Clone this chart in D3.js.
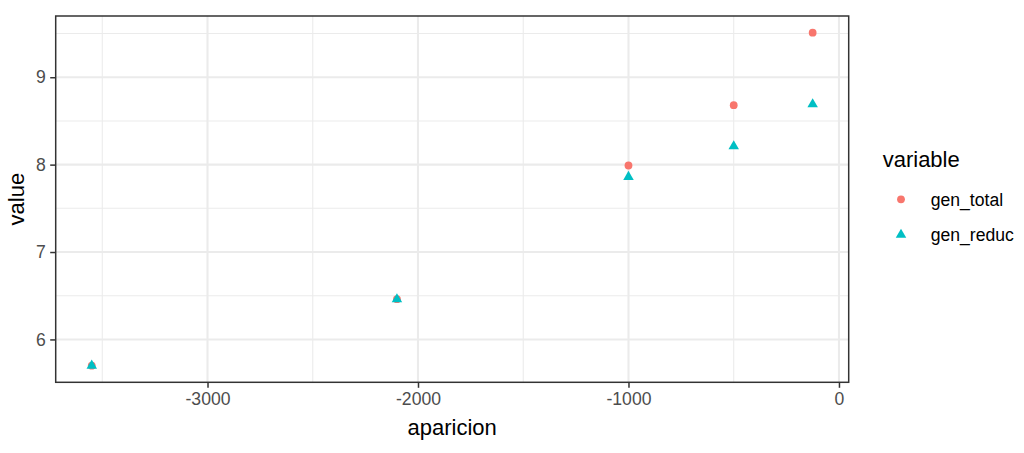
<!DOCTYPE html>
<html>
<head>
<meta charset="utf-8">
<script src="https://cdn.jsdelivr.net/npm/d3@7"></script>
<style>
  html, body { margin: 0; padding: 0; background: #fff; }
  svg { display: block; font-family: "Liberation Sans", Arial, Helvetica, sans-serif; }
</style>
</head>
<body>
<svg id="chart" width="1024" height="453"></svg>
<script>
// ---- data ----
const aparicion = [-3550, -2100, -1000, -500, -125];
const genTotal  = [5.70, 6.46, 7.99, 8.68, 9.51];
const genReduc  = [5.70, 6.46, 7.86, 8.21, 8.69];
const seriesNames = ["gen_total", "gen_reduc"];
const seriesColors = ["#F8766D", "#00BFC4"];
const xTicks = [-3000, -2000, -1000, 0];
const yTicks = [6, 7, 8, 9];
const xMinor = [-3500, -2500, -1500, -500];
const yMinor = [6.5, 7.5, 8.5, 9.5];
const xLabel = "aparicion";
const yLabel = "value";
const legendTitle = "variable";

// ---- layout ----
const svg = d3.select("#chart");
const panel = { left: 55.7, right: 848.7, top: 16, bottom: 382.3 };

function expand(ext) {
  const pad = (ext[1] - ext[0]) * 0.05;
  return [ext[0] - pad, ext[1] + pad];
}
const allY = genTotal.concat(genReduc);
const x = d3.scaleLinear().domain(expand(d3.extent(aparicion))).range([panel.left, panel.right]);
const y = d3.scaleLinear().domain(expand(d3.extent(allY))).range([panel.bottom, panel.top]);

svg.append("rect")
  .attr("x", panel.left).attr("y", panel.top)
  .attr("width", panel.right - panel.left).attr("height", panel.bottom - panel.top)
  .attr("fill", "#fff");

const grid = svg.append("g");
grid.selectAll(".xminor").data(xMinor.filter(v => x(v) >= panel.left && x(v) <= panel.right)).enter()
  .append("line").attr("x1", d => x(d)).attr("x2", d => x(d))
  .attr("y1", panel.top).attr("y2", panel.bottom)
  .attr("stroke", "#EBEBEB").attr("stroke-width", 1.07);
grid.selectAll(".yminor").data(yMinor.filter(v => y(v) >= panel.top && y(v) <= panel.bottom)).enter()
  .append("line").attr("y1", d => y(d)).attr("y2", d => y(d))
  .attr("x1", panel.left).attr("x2", panel.right)
  .attr("stroke", "#EBEBEB").attr("stroke-width", 1.07);
grid.selectAll(".xmajor").data(xTicks).enter()
  .append("line").attr("x1", d => x(d)).attr("x2", d => x(d))
  .attr("y1", panel.top).attr("y2", panel.bottom)
  .attr("stroke", "#EBEBEB").attr("stroke-width", 2.1);
grid.selectAll(".ymajor").data(yTicks).enter()
  .append("line").attr("y1", d => y(d)).attr("y2", d => y(d))
  .attr("x1", panel.left).attr("x2", panel.right)
  .attr("stroke", "#EBEBEB").attr("stroke-width", 2.1);

// points (R-style symbols: filled circle and centroid-centred triangle)
const R0 = 3.9;
const triR = 1.5551 * R0, triXc = 1.3468 * R0, triYc = 0.7776 * R0;
function triPath(cx, cy) {
  return `M${cx},${cy - triR}L${cx + triXc},${cy + triYc}L${cx - triXc},${cy + triYc}Z`;
}
const pts = svg.append("g");
pts.selectAll(".pt0").data(aparicion.map((a, i) => ({ a, v: genTotal[i] }))).enter()
  .append("circle")
  .attr("cx", d => x(d.a)).attr("cy", d => y(d.v)).attr("r", R0)
  .attr("fill", seriesColors[0]);
pts.selectAll(".pt1").data(aparicion.map((a, i) => ({ a, v: genReduc[i] }))).enter()
  .append("path")
  .attr("d", d => triPath(x(d.a), y(d.v)))
  .attr("fill", seriesColors[1]);

svg.append("rect")
  .attr("x", panel.left).attr("y", panel.top)
  .attr("width", panel.right - panel.left).attr("height", panel.bottom - panel.top)
  .attr("fill", "none").attr("stroke", "#333333").attr("stroke-width", 1.5);

// axes
const xAxis = d3.axisBottom(x).tickValues(xTicks).tickSize(5.5).tickPadding(4.5).tickFormat(d3.format("d"));
const gx = svg.append("g").attr("transform", `translate(0,${panel.bottom})`).call(xAxis);
const yAxis = d3.axisLeft(y).tickValues(yTicks).tickSize(5.5).tickPadding(4.5).tickFormat(d3.format("d"));
const gy = svg.append("g").attr("transform", `translate(${panel.left},0)`).call(yAxis);
[gx, gy].forEach(g => {
  g.select(".domain").remove();
  g.selectAll(".tick line").attr("stroke", "#333333").attr("stroke-width", 1.5);
  g.selectAll(".tick text").attr("fill", "#4D4D4D")
    .style("font-size", "17.6px").style("font-family", '"Liberation Sans", Arial, sans-serif');
});
gx.selectAll(".tick text").text(d => d < 0 ? "-" + Math.abs(d) : String(d));

svg.append("text").attr("x", (panel.left + panel.right) / 2).attr("y", 435)
  .attr("text-anchor", "middle").attr("fill", "#000").style("font-size", "22px").text(xLabel);
svg.append("text")
  .attr("transform", `translate(24,${(panel.top + panel.bottom) / 2}) rotate(-90)`)
  .attr("text-anchor", "middle").attr("fill", "#000").style("font-size", "22px").text(yLabel);

// legend
const lg = svg.append("g");
lg.append("text").attr("x", 882.7).attr("y", 166.5).attr("fill", "#000")
  .style("font-size", "22px").text(legendTitle);
const keyY = [199.3, 234.8];
lg.append("circle").attr("cx", 901).attr("cy", keyY[0]).attr("r", R0).attr("fill", seriesColors[0]);
lg.append("path").attr("d", triPath(901, keyY[1])).attr("fill", seriesColors[1]);
seriesNames.forEach((n, i) => {
  lg.append("text").attr("x", 930.7).attr("y", keyY[i] + 6.2).attr("fill", "#000")
    .style("font-size", "17.6px").text(n);
});
</script>
</body>
</html>
